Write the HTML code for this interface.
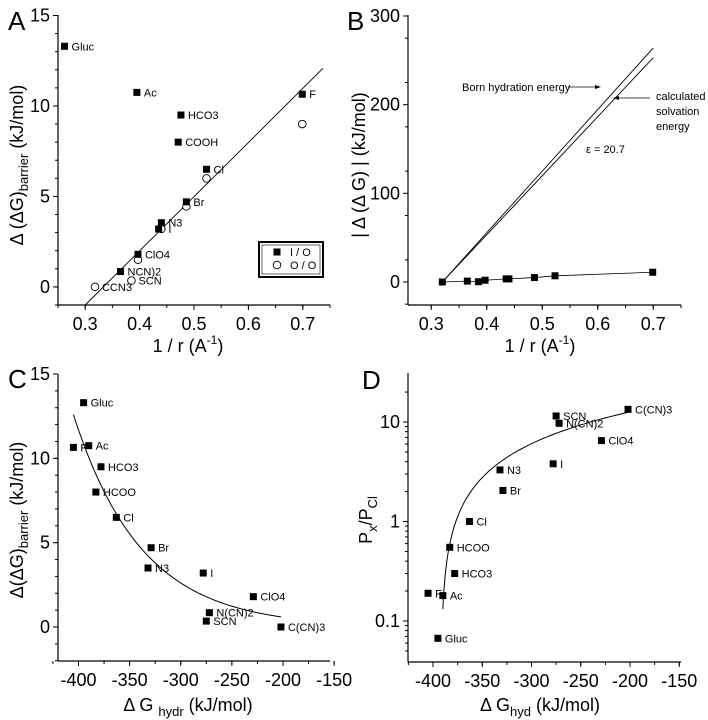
<!DOCTYPE html>
<html><head><meta charset="utf-8">
<style>
html,body{margin:0;padding:0;background:#fff;}
svg{display:block;font-family:"Liberation Sans",Arial,sans-serif;}
</style></head>
<body>
<svg id="fig" width="708" height="720" viewBox="0 0 708 720" xmlns="http://www.w3.org/2000/svg"></svg>
<script>
// ---- Panel A data ----
const aIOx = [0.262,0.395,0.476,0.471,0.523,0.486,0.440,0.435,0.397,0.365,0.699];
const aIOy = [13.3,10.75,9.5,8.0,6.5,4.7,3.55,3.2,1.8,0.85,10.65];
const aIOlab = ["Gluc","Ac","HCO3","COOH","Cl","Br","N3","","ClO4","NCN)2","F"];
const aOOx = [0.699,0.523,0.486,0.440,0.397,0.385,0.318];
const aOOy = [9.0,6.0,4.45,3.2,1.5,0.35,0.0];
const aOOlab = ["","","","I","","SCN","CCN3"];
const aLineX = [0.30,0.737];
const aLineY = [-1.0,12.08];
const aXTicks = [0.3,0.4,0.5,0.6,0.7];
const aYTicks = [0,5,10,15];
// ---- Panel B data ----
const bX = [0.320,0.365,0.385,0.397,0.435,0.440,0.486,0.523,0.699];
const bY = [0,1,0.3,2,3.5,3.5,5,7,11];
const bBornX = [0.32,0.70]; const bBornY = [0,264];
const bCalcX = [0.32,0.70]; const bCalcY = [0,253];
const bXTicks = [0.3,0.4,0.5,0.6,0.7];
const bYTicks = [0,100,200,300];
// ---- Panel C data ----
const cX = [-395,-405,-390,-378,-383,-363,-329,-332,-278,-229,-272,-275,-202];
const cY = [13.3,10.65,10.75,9.5,8.0,6.5,4.7,3.5,3.2,1.8,0.85,0.35,0];
const cLab = ["Gluc","F","Ac","HCO3","HCOO","Cl","Br","N3","I","ClO4","N(CN)2","SCN","C(CN)3"];
const cFitA = 12.6, cFitB = 0.015, cFitX0 = -405, cFitX1 = -202;
const cXTicks = [-400,-350,-300,-250,-200,-150];
const cYTicks = [0,5,10,15];
// ---- Panel D data ----
const dX = [-275,-272,-202,-229,-278,-332,-329,-363,-383,-378,-405,-390,-395];
const dY = [11.5,9.7,13.4,6.5,3.8,3.3,2.05,1.0,0.55,0.3,0.19,0.18,0.067];
const dLab = ["SCN","N(CN)2","C(CN)3","ClO4","I","N3","Br","Cl","HCOO","HCO3","F","Ac","Gluc"];
const dFitK = 0.0658, dFitX0 = -392, dFitX1 = -390, dFitX2 = -202;
const dXTicks = [-400,-350,-300,-250,-200,-150];
const dYTicks = [0.1,1,10];
const dYTickLab = ["0.1","1","10"];

const svg = document.getElementById('fig');
const NS = 'http://www.w3.org/2000/svg';
function mk(tag, attrs, parent){const e=document.createElementNS(NS,tag);for(const k in attrs)e.setAttribute(k,attrs[k]);(parent||svg).appendChild(e);return e;}
function txt(s, attrs, parent){const e=mk('text',attrs,parent);e.textContent=s;return e;}
function lin(x0,x1,p0,p1){return v=>p0+(v-x0)/(x1-x0)*(p1-p0);}
function logs(v0,v1,p0,p1){return v=>p0+(Math.log10(v)-Math.log10(v0))/(Math.log10(v1)-Math.log10(v0))*(p1-p0);}

function axes(g, L, R, T, B, xs, ys, xt, yt, xlab, ylab, xminor, yminor){
  const ax=mk('g',{},g);
  
  
  mk('line',{x1:L,y1:T,x2:L,y2:B,stroke:'#000','stroke-width':1.2},ax);
  mk('line',{x1:L,y1:B,x2:R,y2:B,stroke:'#000','stroke-width':1.2},ax);
  xminor.forEach(v=>{const x=xs(v);mk('line',{x1:x,y1:B,x2:x,y2:B+3,stroke:'#000'},ax);});
  yminor.forEach(v=>{const y=ys(v);mk('line',{x1:L,y1:y,x2:L-3,y2:y,stroke:'#000'},ax);});
  xt.forEach(v=>{const x=xs(v);mk('line',{x1:x,y1:B,x2:x,y2:B+5,stroke:'#000'},ax);
    const t=txt(xlab?xlab(v):String(v),{x:x,y:B+25,'font-size':18,'text-anchor':'middle'},ax);
    });
  yt.forEach((v,i)=>{const y=ys(v);mk('line',{x1:L,y1:y,x2:L-5,y2:y,stroke:'#000'},ax);
    const t=txt(ylab?ylab(v,i):String(v),{x:L-8,y:y+6,'font-size':18,'text-anchor':'end'},ax);
    });
}
function sq(g,x,y){const r=mk('rect',{x:x-3.5,y:y-3.5,width:7,height:7,fill:'#000'},g);return r;}
function circ(g,x,y){const c=mk('circle',{cx:x,cy:y,r:3.8,fill:'#fff',stroke:'#000','stroke-width':0.9},g);return c;}
function lab(g,s,x,y){if(!s)return;const t=txt(s,{x:x+7,y:y+4,'font-size':11},g);}
function range(a,b,s){const r=[];for(let v=a;v<=b+1e-9;v+=s)r.push(+v.toFixed(4));return r;}

// ===== Panel A =====
{
const g=mk('g',{});
const L=58,R=330,T=15,B=305;
const xs=lin(0.25,0.75,L,R), ys=lin(-1,15,B,15.5);
axes(g,L,R,T,B,xs,ys,aXTicks,aYTicks,v=>v.toFixed(1),null,range(0.25,0.75,0.05),range(-1,15,1));
mk('line',{x1:xs(aLineX[0]),y1:ys(aLineY[0]),x2:xs(aLineX[1]),y2:ys(aLineY[1]),stroke:'#000','stroke-width':0.9},g);
aOOx.forEach((x,i)=>{circ(g,xs(x),ys(aOOy[i]));lab(g,aOOlab[i],xs(x),ys(aOOy[i]));});
aIOx.forEach((x,i)=>{sq(g,xs(x),ys(aIOy[i]));lab(g,aIOlab[i],xs(x),ys(aIOy[i]));});
const lg=mk('g',{},g);
mk('rect',{x:259,y:242,width:64,height:35,fill:'#fff',stroke:'#000','stroke-width':2},lg);
mk('rect',{x:262,y:245,width:58,height:29,fill:'none',stroke:'#000','stroke-width':0.6},lg);
sq(lg,277,252);txt('I / O',{x:290,y:256,'font-size':11},lg);
circ(lg,277,265);txt('O / O',{x:290,y:269,'font-size':11},lg);
txt('A',{x:8,y:30,'font-size':26},g);
const xt=txt('',{x:188,y:352,'font-size':18,'text-anchor':'middle'},g);
xt.innerHTML='1 / r (A<tspan font-size="12" dy="-8">-1</tspan><tspan dy="8">)</tspan>';
const yt=txt('',{transform:'translate(23,165) rotate(-90)','font-size':18,'text-anchor':'middle'},g);

yt.innerHTML='Δ (ΔG)<tspan font-size="13" dy="5">barrier</tspan><tspan dy="-5"> (kJ/mol)</tspan>';
}
// ===== Panel B =====
{
const g=mk('g',{});
const L=408,R=681,T=15,B=305;
const xs=lin(0.25,0.75,403.5,681), ys=lin(0,300,282,16);
axes(g,L,R,T,B,xs,ys,bXTicks,bYTicks,v=>v.toFixed(1),null,range(0.3,0.75,0.05),range(-25,300,50));
mk('line',{x1:xs(bBornX[0]),y1:ys(bBornY[0]),x2:xs(bBornX[1]),y2:ys(bBornY[1]),stroke:'#000','stroke-width':0.9},g);
mk('line',{x1:xs(bCalcX[0]),y1:ys(bCalcY[0]),x2:xs(bCalcX[1]),y2:ys(bCalcY[1]),stroke:'#000','stroke-width':0.9},g);
let d='';bX.forEach((x,i)=>{d+=(i?'L':'M')+xs(x)+','+ys(bY[i]);});
mk('path',{d:d,fill:'none',stroke:'#000','stroke-width':0.8},g);
bX.forEach((x,i)=>sq(g,xs(x),ys(bY[i])));
txt('Born hydration energy',{x:462,y:91,'font-size':11},g);
mk('line',{x1:568,y1:87,x2:598,y2:87,stroke:'#000','stroke-width':0.8},g);
mk('path',{d:'M601,87 L595,85 L595,89 Z',fill:'#000'},g);
txt('calculated',{x:656,y:100,'font-size':11},g);
txt('solvation',{x:656,y:115,'font-size':11},g);
txt('energy',{x:656,y:130,'font-size':11},g);
mk('line',{x1:650,y1:98,x2:616,y2:98,stroke:'#000','stroke-width':0.8},g);
mk('path',{d:'M613,98 L619,96 L619,100 Z',fill:'#000'},g);
txt('ε = 20.7',{x:586,y:153,'font-size':11},g);
txt('B',{x:347,y:30,'font-size':26},g);
const xt=txt('',{x:540,y:352,'font-size':18,'text-anchor':'middle'},g);
xt.innerHTML='1 / r  (A<tspan font-size="12" dy="-8">-1</tspan><tspan dy="8">)</tspan>';
const yt=txt('| Δ (Δ G) | (kJ/mol)',{transform:'translate(365,165) rotate(-90)','font-size':18,'text-anchor':'middle'},g);

}
// ===== Panel C =====
{
const g=mk('g',{});
const L=58,R=330,T=374,B=661;
const xs=lin(-400,-200,78.5,283), ys=lin(0,15,627,374);
axes(g,L,R,T,B,xs,ys,cXTicks,cYTicks,null,null,range(-425,-150,25),range(-2,15,1));
let d='';for(let i=0;i<=60;i++){const x=cFitX0+(cFitX1-cFitX0)*i/60;d+=(i?'L':'M')+xs(x).toFixed(1)+','+ys(cFitA*Math.exp(-cFitB*(x-cFitX0))).toFixed(1);}
mk('path',{d:d,fill:'none',stroke:'#000','stroke-width':1},g);
cX.forEach((x,i)=>{sq(g,xs(x),ys(cY[i]));lab(g,cLab[i],xs(x),ys(cY[i]));});
txt('C',{x:8,y:388,'font-size':26},g);
const xt=txt('',{x:188,y:711,'font-size':18,'text-anchor':'middle'},g);
xt.innerHTML='Δ G <tspan font-size="13" dy="5">hydr</tspan><tspan dy="-5"> (kJ/mol)</tspan>';
const yt=txt('',{transform:'translate(23,520) rotate(-90)','font-size':18,'text-anchor':'middle'},g);

yt.innerHTML='Δ(ΔG)<tspan font-size="13" dy="5">barrier</tspan><tspan dy="-5"> (kJ/mol)</tspan>';
}
// ===== Panel D =====
{
const g=mk('g',{});
const L=408,R=681,T=373,B=662;
const xs=lin(-400,-200,433,630), ys=logs(0.1,10,621,422);
const minor=[];[0.01,0.1,1,10].forEach(b=>{for(let k=2;k<=9;k++){const v=b*k;if(v>0.04&&v<30)minor.push(v);}});
axes(g,L,R,T,B,xs,ys,dXTicks,dYTicks,null,(v,i)=>dYTickLab[i],range(-425,-150,25),minor);
let d='';for(let i=0;i<=80;i++){const x=dFitX1+(dFitX2-dFitX1)*Math.pow(i/80,2);d+=(i?'L':'M')+xs(x).toFixed(1)+','+ys(dFitK*(x-dFitX0)).toFixed(1);}
mk('path',{d:d,fill:'none',stroke:'#000','stroke-width':1},g);
dX.forEach((x,i)=>{sq(g,xs(x),ys(dY[i]));lab(g,dLab[i],xs(x),ys(dY[i]));});
txt('D',{x:362,y:389,'font-size':26},g);
const xt=txt('',{x:540,y:711,'font-size':18,'text-anchor':'middle'},g);
xt.innerHTML='Δ G<tspan font-size="13" dy="5">hyd</tspan><tspan dy="-5"> (kJ/mol)</tspan>';
const yt=txt('',{transform:'translate(372,520) rotate(-90)','font-size':18,'text-anchor':'middle'},g);

yt.innerHTML='P<tspan font-size="13" dy="5">x</tspan><tspan dy="-5">/P</tspan><tspan font-size="13" dy="5">Cl</tspan>';
}
</script>
</body></html>
